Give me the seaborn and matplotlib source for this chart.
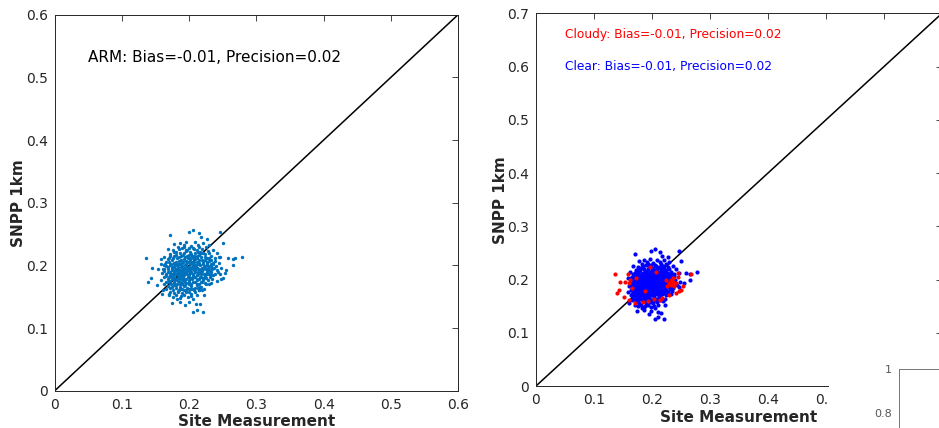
import numpy as np
import pandas as pd
import seaborn as sns
import matplotlib.pyplot as plt
from matplotlib.patches import Rectangle

# cloudy-sky matchups (site, SNPP 1km)
cloudy_pts = np.array([
    [0.136, 0.211], [0.145, 0.196], [0.153, 0.195], [0.143, 0.180], [0.139, 0.174],
    [0.152, 0.168], [0.161, 0.194], [0.158, 0.210], [0.268, 0.211], [0.245, 0.213],
    [0.253, 0.188], [0.250, 0.180], [0.247, 0.178], [0.233, 0.199], [0.229, 0.193],
    [0.237, 0.196], [0.230, 0.171], [0.214, 0.161], [0.236, 0.202], [0.224, 0.199],
    [0.170, 0.155], [0.184, 0.158], [0.161, 0.161], [0.173, 0.202], [0.196, 0.224],
    [0.241, 0.193], [0.244, 0.204], [0.226, 0.187], [0.203, 0.163], [0.165, 0.185],
    [0.188, 0.178], [0.218, 0.166], [0.232, 0.189], [0.162, 0.200], [0.238, 0.187],
    [0.207, 0.215], [0.193, 0.160], [0.241, 0.175],
])

# clear-sky matchups: outer scatter
clear_pts = np.array([
    [0.205, 0.257], [0.199, 0.253], [0.214, 0.251], [0.246, 0.253], [0.171, 0.248],
    [0.227, 0.242], [0.250, 0.235], [0.177, 0.234], [0.217, 0.245],
    [0.186, 0.236], [0.196, 0.238], [0.208, 0.237], [0.221, 0.236], [0.213, 0.233],
    [0.192, 0.232], [0.202, 0.231], [0.230, 0.233], [0.183, 0.229], [0.225, 0.230],
    [0.168, 0.226], [0.176, 0.224], [0.189, 0.227], [0.197, 0.225], [0.205, 0.228],
    [0.212, 0.224], [0.219, 0.226], [0.228, 0.223], [0.236, 0.225], [0.181, 0.221],
    [0.193, 0.220], [0.201, 0.222], [0.209, 0.219], [0.216, 0.221], [0.224, 0.218],
    [0.241, 0.220], [0.172, 0.218],
    [0.162, 0.214], [0.170, 0.212], [0.178, 0.215], [0.185, 0.213], [0.191, 0.216],
    [0.198, 0.212], [0.204, 0.215], [0.211, 0.211], [0.218, 0.214], [0.226, 0.212],
    [0.232, 0.215], [0.238, 0.211], [0.246, 0.213], [0.258, 0.212], [0.278, 0.214],
    [0.265, 0.210], [0.174, 0.208], [0.181, 0.206], [0.188, 0.209], [0.195, 0.207],
    [0.201, 0.209], [0.207, 0.205], [0.214, 0.208], [0.221, 0.206], [0.229, 0.207],
    [0.235, 0.204], [0.166, 0.205],
    [0.158, 0.202], [0.165, 0.199], [0.171, 0.201], [0.177, 0.198], [0.183, 0.202],
    [0.189, 0.199], [0.194, 0.201], [0.199, 0.198], [0.205, 0.200], [0.210, 0.197],
    [0.216, 0.200], [0.222, 0.198], [0.227, 0.201], [0.233, 0.197], [0.240, 0.199],
    [0.248, 0.196], [0.255, 0.193], [0.265, 0.200], [0.168, 0.194], [0.174, 0.192],
    [0.180, 0.195], [0.186, 0.193], [0.192, 0.196], [0.197, 0.193], [0.202, 0.195],
    [0.208, 0.192], [0.213, 0.194], [0.219, 0.191], [0.225, 0.194], [0.231, 0.191],
    [0.243, 0.190],
    [0.160, 0.188], [0.166, 0.186], [0.172, 0.189], [0.178, 0.186], [0.184, 0.188],
    [0.190, 0.185], [0.195, 0.188], [0.200, 0.185], [0.206, 0.187], [0.211, 0.184],
    [0.217, 0.186], [0.223, 0.183], [0.229, 0.186], [0.236, 0.184], [0.246, 0.186],
    [0.163, 0.181], [0.169, 0.179], [0.175, 0.182], [0.181, 0.179], [0.187, 0.182],
    [0.193, 0.179], [0.198, 0.181], [0.204, 0.178], [0.209, 0.181], [0.215, 0.178],
    [0.221, 0.180], [0.228, 0.177], [0.234, 0.179],
    [0.158, 0.176], [0.165, 0.173], [0.171, 0.175], [0.177, 0.172], [0.183, 0.175],
    [0.189, 0.172], [0.194, 0.174], [0.200, 0.171], [0.206, 0.174], [0.212, 0.171],
    [0.218, 0.173], [0.225, 0.170], [0.232, 0.172], [0.168, 0.167], [0.174, 0.165],
    [0.180, 0.168], [0.186, 0.165], [0.192, 0.167], [0.197, 0.164], [0.203, 0.167],
    [0.209, 0.164], [0.216, 0.166], [0.222, 0.163],
    [0.160, 0.155], [0.172, 0.158], [0.178, 0.156], [0.184, 0.159], [0.190, 0.156],
    [0.196, 0.158], [0.202, 0.155], [0.208, 0.158], [0.214, 0.161], [0.222, 0.152],
    [0.176, 0.150], [0.188, 0.151], [0.198, 0.149], [0.206, 0.147], [0.182, 0.146],
    [0.175, 0.140], [0.186, 0.142], [0.199, 0.141], [0.210, 0.139], [0.205, 0.126],
    [0.211, 0.129], [0.220, 0.126], [0.194, 0.136], [0.216, 0.138],
])

# clear-sky matchups: dense core of the cloud
clear_core = np.array([
    [0.182, 0.191], [0.188, 0.197], [0.196, 0.190], [0.203, 0.190], [0.207, 0.196],
    [0.213, 0.189], [0.219, 0.196], [0.185, 0.184], [0.191, 0.177], [0.199, 0.176],
    [0.205, 0.183], [0.212, 0.176], [0.218, 0.182], [0.179, 0.177], [0.186, 0.170],
    [0.194, 0.169], [0.201, 0.203], [0.209, 0.210], [0.197, 0.215], [0.189, 0.204],
    [0.215, 0.204], [0.223, 0.209], [0.178, 0.204], [0.184, 0.197], [0.193, 0.184],
    [0.200, 0.193], [0.210, 0.200], [0.216, 0.192], [0.224, 0.187], [0.176, 0.187],
    [0.183, 0.181], [0.190, 0.191], [0.197, 0.197], [0.204, 0.206], [0.211, 0.215],
    [0.218, 0.219], [0.188, 0.215], [0.182, 0.211], [0.174, 0.197], [0.171, 0.184],
    [0.177, 0.168], [0.205, 0.162], [0.212, 0.168], [0.228, 0.196], [0.232, 0.203],
    [0.238, 0.207], [0.226, 0.200], [0.195, 0.161], [0.187, 0.162], [0.201, 0.212],
    [0.185, 0.226], [0.193, 0.229], [0.207, 0.226], [0.215, 0.229], [0.199, 0.227],
    [0.178, 0.222], [0.186, 0.219], [0.195, 0.223], [0.203, 0.218], [0.213, 0.222],
    [0.221, 0.220], [0.229, 0.219], [0.172, 0.215], [0.180, 0.217], [0.194, 0.213],
    [0.200, 0.217], [0.208, 0.214], [0.215, 0.216], [0.223, 0.214], [0.230, 0.211],
    [0.168, 0.210], [0.176, 0.211], [0.185, 0.207], [0.192, 0.210], [0.198, 0.206],
    [0.205, 0.211], [0.212, 0.206], [0.219, 0.209], [0.226, 0.205], [0.233, 0.208],
    [0.164, 0.203], [0.170, 0.205], [0.177, 0.202], [0.181, 0.200], [0.187, 0.203],
    [0.191, 0.205], [0.196, 0.202], [0.203, 0.204], [0.208, 0.201], [0.213, 0.203],
    [0.220, 0.202], [0.226, 0.204], [0.231, 0.199], [0.163, 0.195], [0.169, 0.197],
    [0.175, 0.195], [0.179, 0.192], [0.184, 0.194], [0.188, 0.191], [0.191, 0.194],
    [0.195, 0.195], [0.199, 0.191], [0.204, 0.197], [0.207, 0.193], [0.211, 0.196],
    [0.215, 0.194], [0.221, 0.195], [0.227, 0.192], [0.234, 0.194], [0.162, 0.191],
    [0.168, 0.189], [0.173, 0.186], [0.177, 0.190], [0.181, 0.187], [0.186, 0.189],
    [0.189, 0.186], [0.193, 0.189], [0.197, 0.186], [0.201, 0.188], [0.205, 0.186],
    [0.209, 0.189], [0.213, 0.186], [0.217, 0.189], [0.222, 0.186], [0.227, 0.189],
    [0.232, 0.185], [0.165, 0.183], [0.170, 0.181], [0.174, 0.178], [0.178, 0.181],
    [0.183, 0.178], [0.187, 0.180], [0.191, 0.182], [0.195, 0.179], [0.199, 0.182],
    [0.202, 0.180], [0.207, 0.181], [0.211, 0.178], [0.216, 0.181], [0.220, 0.177],
    [0.225, 0.180], [0.231, 0.182], [0.163, 0.171], [0.168, 0.174], [0.173, 0.171],
    [0.178, 0.174], [0.182, 0.170], [0.186, 0.173], [0.190, 0.170], [0.195, 0.172],
    [0.199, 0.174], [0.203, 0.171], [0.208, 0.173], [0.214, 0.170], [0.219, 0.174],
    [0.224, 0.172], [0.166, 0.162], [0.171, 0.164], [0.176, 0.161], [0.181, 0.164],
    [0.185, 0.161], [0.190, 0.163], [0.199, 0.162], [0.207, 0.161], [0.213, 0.164],
    [0.219, 0.160], [0.170, 0.153], [0.181, 0.153], [0.193, 0.153], [0.200, 0.157],
    [0.211, 0.153], [0.187, 0.148], [0.203, 0.151],
])

left_ticks = [0, 0.1, 0.2, 0.3, 0.4, 0.5, 0.6]
right_ticks = [0, 0.1, 0.2, 0.3, 0.4, 0.5, 0.6, 0.7]
extra_ticks = [0.8, 1]

cloudy = pd.DataFrame(cloudy_pts, columns=["site", "snpp"])
clear = pd.DataFrame(np.vstack([clear_pts, clear_core]), columns=["site", "snpp"])
all_obs = pd.concat([clear, cloudy], ignore_index=True)
one2one = pd.DataFrame({"x": [0, 1], "y": [0, 1]})

sns.set_style("white")
plt.rcParams['font.family'] = ['DejaVu Sans']

txt_col = '#262626'
fig = plt.figure(figsize=(9.39, 4.28), dpi=100)


def style_axes(ax, lim, ticks, ylabelpad):
    ax.set_xlim(0, lim)
    ax.set_ylim(0, lim)
    ax.set_xticks(ticks)
    ax.set_yticks(ticks)
    # last x label of the right panel sits under the neighbouring panel anyway
    ax.set_xticklabels([f"{t:g}" if t <= 0.6 else "" for t in ticks])
    ax.set_yticklabels([f"{t:g}" for t in ticks])
    ax.tick_params(direction='in', length=4, width=0.6, colors=txt_col,
                   labelsize=10, top=True, right=True, pad=5)
    for sp in ax.spines.values():
        sp.set_visible(True)
        sp.set_color(txt_col)
        sp.set_linewidth(0.7)
    ax.set_xlabel("Site Measurement", fontsize=11, fontweight='bold', color=txt_col, labelpad=2)
    ax.set_ylabel("SNPP 1km", fontsize=11, fontweight='bold', color=txt_col, labelpad=ylabelpad)


# left panel: all matchups
ax1 = fig.add_axes([0.0583, 0.0871, 0.4295, 0.8785])
sns.lineplot(data=one2one, x="x", y="y", color='black', linewidth=1.1, ax=ax1)
sns.scatterplot(data=all_obs, x="site", y="snpp", color='#0072BD', s=6,
                linewidth=0, ax=ax1, zorder=3)
style_axes(ax1, 0.6, left_ticks, 0)
ax1.text(0.05, 0.531, "ARM: Bias=-0.01, Precision=0.02", fontsize=11,
         color='black', va='center')

# right panel: cloudy vs clear
ax2 = fig.add_axes([0.5708, 0.0981, 0.4324, 0.8708])
sns.lineplot(data=one2one, x="x", y="y", color='black', linewidth=1.1, ax=ax2)
sns.scatterplot(data=clear, x="site", y="snpp", color='blue', s=9,
                linewidth=0, ax=ax2, zorder=3)
sns.scatterplot(data=cloudy, x="site", y="snpp", color='red', s=9,
                linewidth=0, ax=ax2, zorder=4)
style_axes(ax2, 0.7, right_ticks, -1)
ax2.text(0.05, 0.66, "Cloudy: Bias=-0.01, Precision=0.02", fontsize=8.8,
         color='red', va='center')
ax2.text(0.05, 0.60, "Clear: Bias=-0.01, Precision=0.02", fontsize=8.8,
         color='blue', va='center')

# piece of a neighbouring panel overlapping the bottom-right corner
fig.patches.append(Rectangle((0.8829, 0.0), 0.2, 0.17, transform=fig.transFigure,
                             facecolor='white', edgecolor='none', zorder=5))
ax3 = fig.add_axes([0.9574, -0.2, 0.2, 0.3379], zorder=6)
ax3.set_ylim(0.343, 1)
ax3.set_xlim(0, 1)
ax3.set_yticks(extra_ticks)
ax3.set_yticklabels(["0.8", "1"])
ax3.set_xticks([])
ax3.tick_params(axis='y', direction='out', length=3, width=0.6, colors='#555555',
                labelsize=8, pad=2)
for name, sp in ax3.spines.items():
    sp.set_visible(name in ("left", "top"))
    sp.set_color('#777777')
    sp.set_linewidth(0.7)

fig.savefig("out.png", dpi=100)
